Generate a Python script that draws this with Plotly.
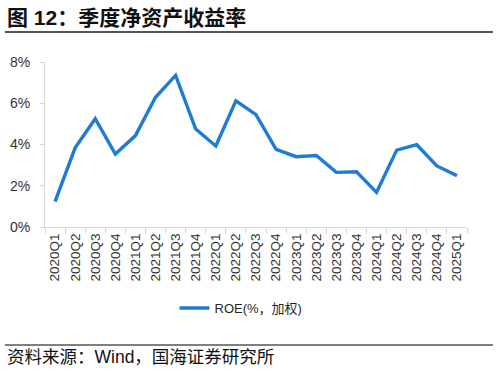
import plotly.graph_objects as go

quarters = ["2020Q1", "2020Q2", "2020Q3", "2020Q4", "2021Q1", "2021Q2", "2021Q3",
            "2021Q4", "2022Q1", "2022Q2", "2022Q3", "2022Q4", "2023Q1", "2023Q2",
            "2023Q3", "2023Q4", "2024Q1", "2024Q2", "2024Q3", "2024Q4", "2025Q1"]
roe = [1.23, 3.84, 5.25, 3.54, 4.43, 6.29, 7.35, 4.75, 3.93, 6.12, 5.45, 3.76,
       3.41, 3.47, 2.65, 2.68, 1.68, 3.73, 3.99, 2.96, 2.49]
y_ticks = [0, 2, 4, 6, 8]

series_name = "ROE(%，加权)"
title_text = "<b>图 12：季度净资产收益率</b>"
source_text = "资料来源：Wind，国海证券研究所"

W, H = 498, 373
L, R, T, B = 45, 467, 62, 227
pw, ph = R - L, B - T

def px(x):
    return (x - L) / pw

def py(y):
    return (B - y) / ph

font_main = "Arial, 'Liberation Sans', 'Noto Sans CJK SC', sans-serif"
font_cjk = "'Liberation Sans', 'Noto Sans CJK SC', sans-serif"

fig = go.Figure()
fig.add_trace(go.Scatter(
    x=quarters, y=roe, mode="lines", name=series_name,
    line=dict(color="#1f7bd3", width=3.4),
    showlegend=True,
))

fig.update_layout(
    width=W, height=H,
    margin=dict(l=L, r=W - R, t=T, b=H - B, pad=0),
    paper_bgcolor="white", plot_bgcolor="white",
    font=dict(family=font_main, size=13, color="#262626"),
    xaxis=dict(
        type="category", tickangle=-90, showgrid=False, zeroline=False,
        showline=True, linecolor="#d9d9d9", linewidth=1,
        ticks="outside", ticklen=6, tickcolor="#d9d9d9", tickson="boundaries",
        tickfont=dict(size=13.5, color="#333333"),
        range=[-0.5, len(quarters) - 0.5], automargin=False,
    ),
    yaxis=dict(
        range=[0, 8], tickvals=y_ticks, ticktext=[f"{v}%" for v in y_ticks],
        showgrid=False, zeroline=False,
        showline=True, linecolor="#d9d9d9", linewidth=1,
        ticks="outside", ticklen=4, tickcolor="#d9d9d9", ticklabelstandoff=7,
        tickfont=dict(size=14, color="#333333"), automargin=False,
    ),
    legend=dict(
        orientation="h", x=px(241), y=py(308), xanchor="center", yanchor="middle",
        font=dict(size=13, family=font_cjk, color="#262626"),
        bgcolor="rgba(0,0,0,0)", itemwidth=30,
    ),
    shapes=[
        dict(type="line", xref="paper", yref="paper", x0=px(5), x1=px(493),
             y0=py(32), y1=py(32), line=dict(color="#555555", width=2)),
        dict(type="line", xref="paper", yref="paper", x0=px(5), x1=px(493),
             y0=py(345), y1=py(345), line=dict(color="#555555", width=1.5)),
    ],
    annotations=[
        dict(text=title_text, xref="paper", yref="paper", x=px(5), y=py(17),
             xanchor="left", yanchor="middle", showarrow=False,
             font=dict(size=21, family=font_cjk, color="#111111")),
        dict(text=source_text, xref="paper", yref="paper", x=px(5), y=py(357),
             xanchor="left", yanchor="middle", showarrow=False,
             font=dict(size=17.5, family=font_cjk, color="#111111")),
    ],
)

fig.write_html("out.html", config={"displayModeBar": False},
               post_script="document.body.style.margin='0';document.body.style.overflow='hidden';")
